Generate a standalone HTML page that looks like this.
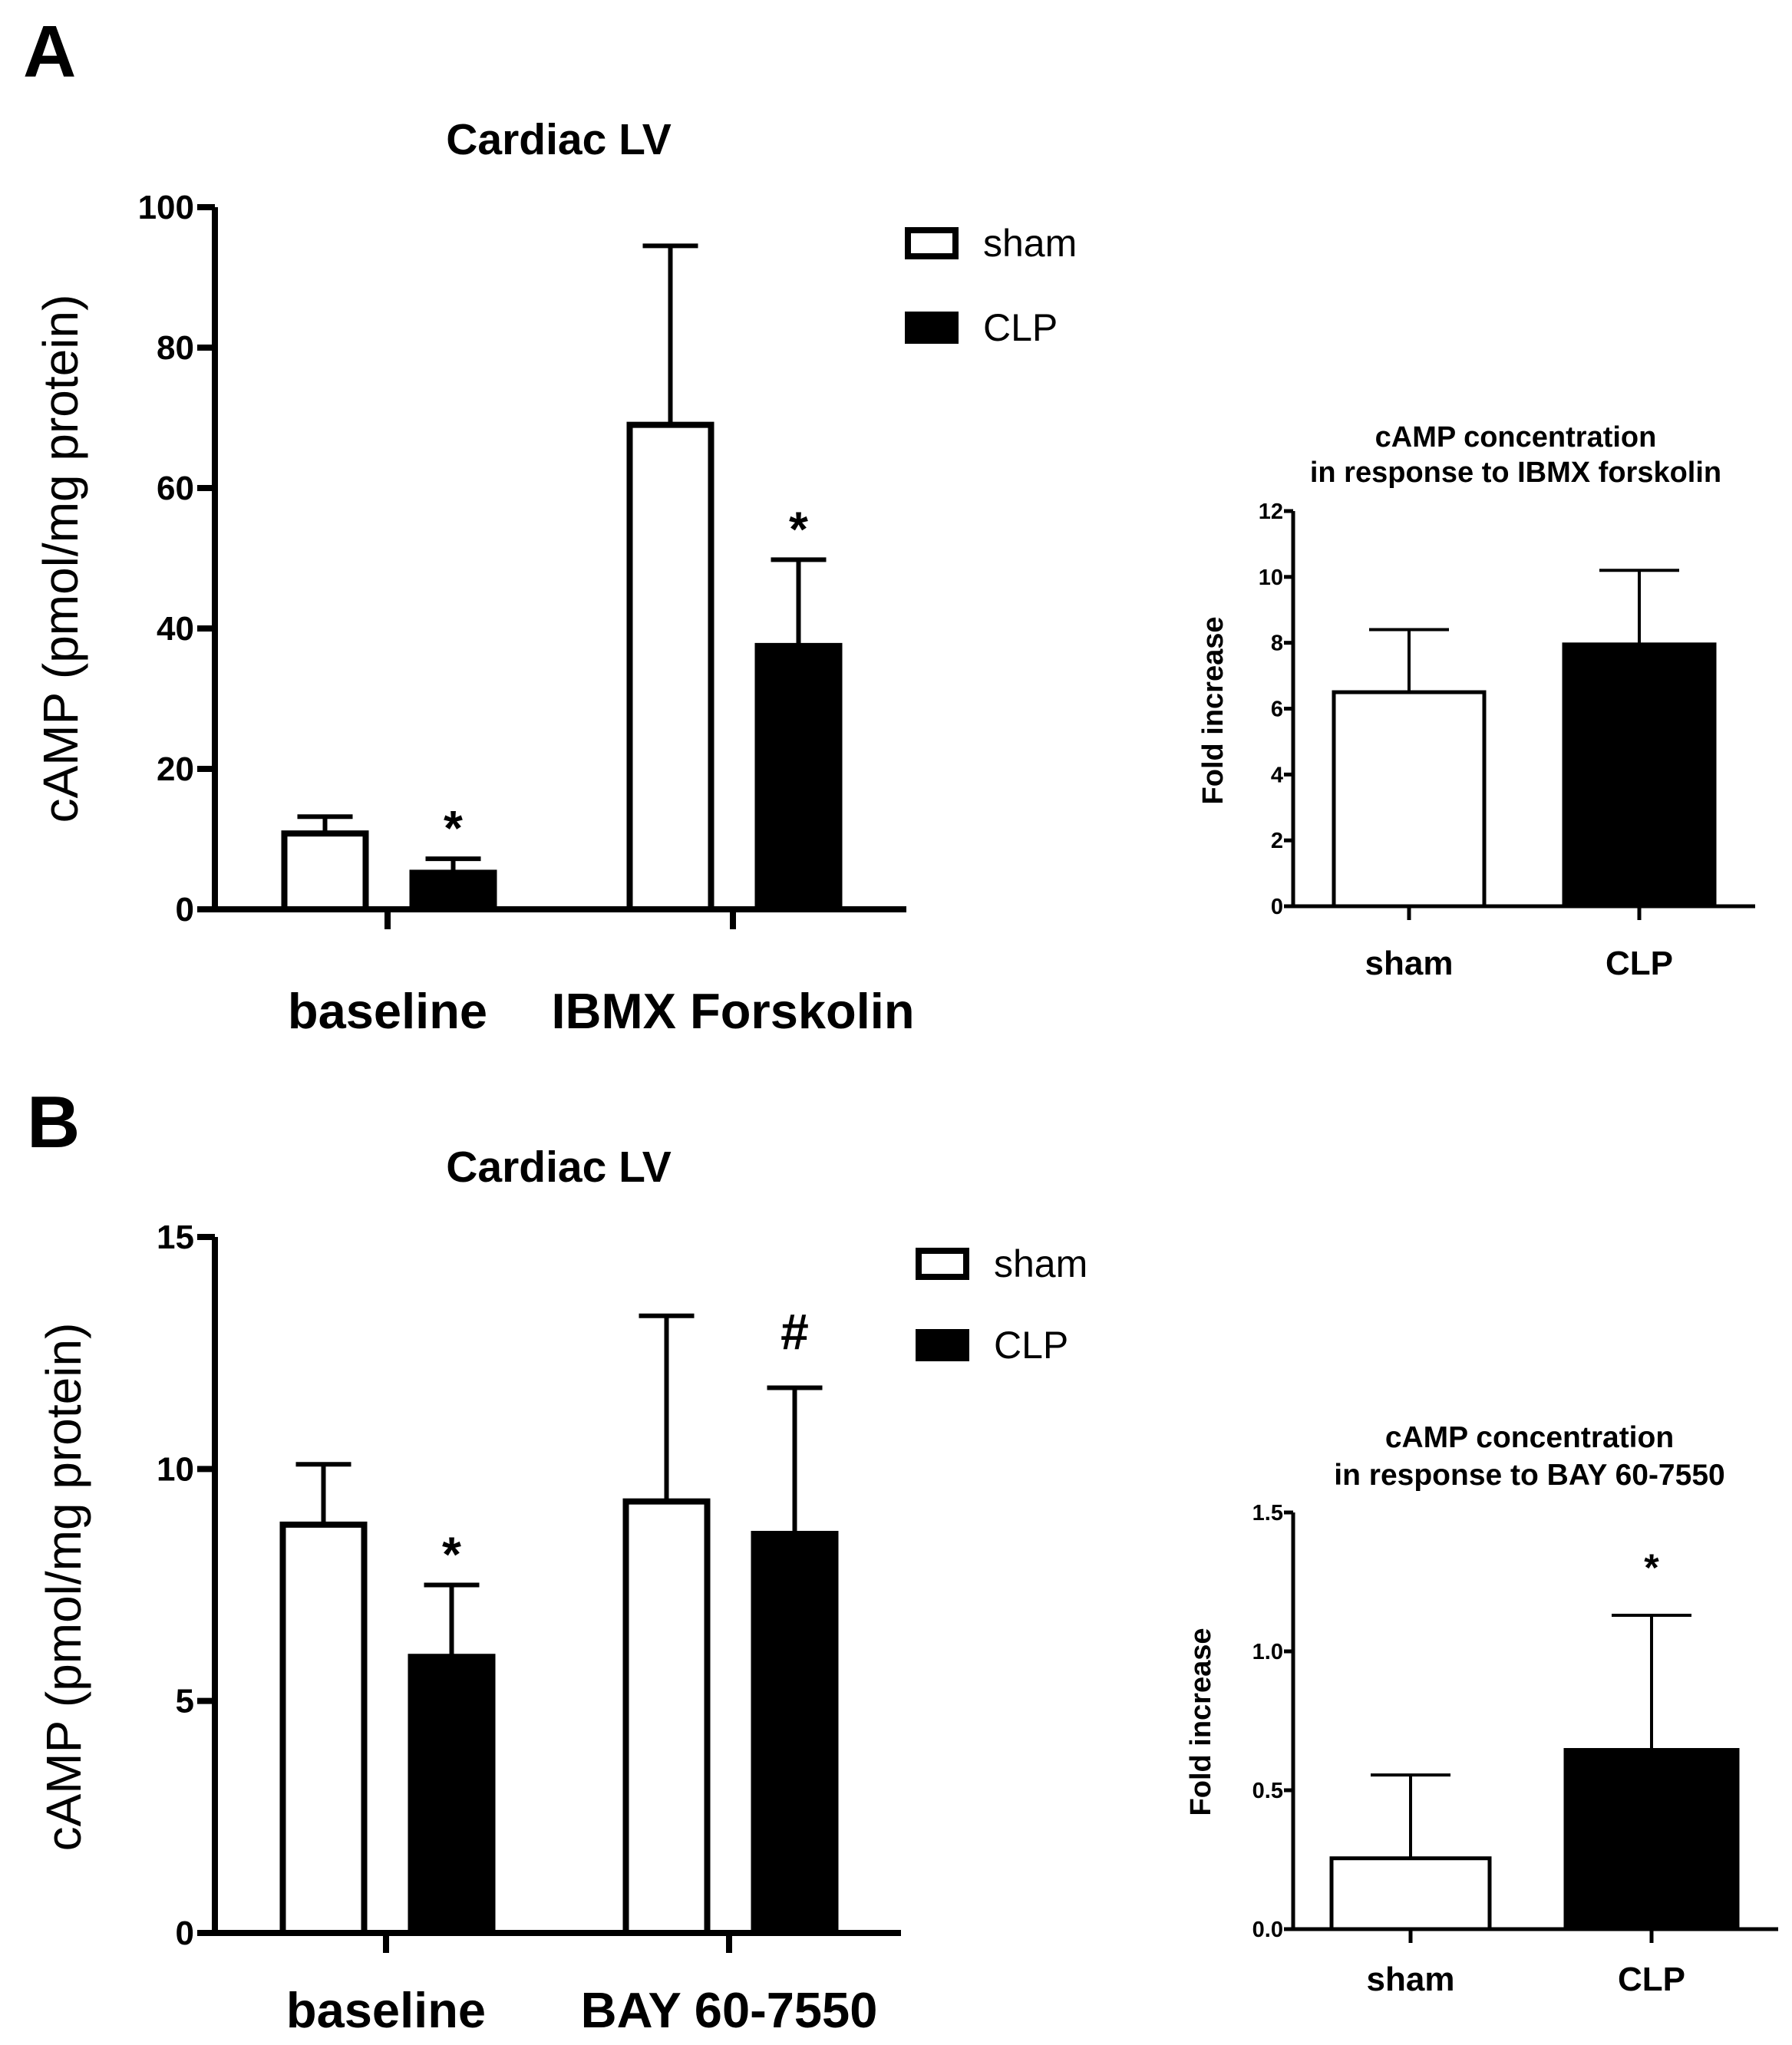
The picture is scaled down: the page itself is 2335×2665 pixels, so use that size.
<!DOCTYPE html>
<html><head><meta charset="utf-8">
<style>
html,body{margin:0;padding:0;background:#fff}
svg{display:block}
text{font-family:"Liberation Sans",Arial,sans-serif;fill:#000}
.b{font-weight:bold}
</style></head>
<body>
<svg id="fig" width="2335" height="2665" viewBox="0 0 2335 2665" xmlns="http://www.w3.org/2000/svg">
<rect width="2335" height="2665" fill="#fff"/>
<text class="b" x="30" y="100" font-size="96">A</text>
<text class="b" x="35" y="1495" font-size="96">B</text>
</svg>
<script>
// Panel A main chart data
const aCategories = ["baseline", "IBMX Forskolin"];
const aSham = [10.8, 69];
const aShamErr = [13.2, 94.5];
const aClp = [5.2, 37.5];
const aClpErr = [7.2, 49.8];
const aTicks = [0, 20, 40, 60, 80, 100];
const aMarks = ["*", "*"];
// Panel A right chart data
const arCategories = ["sham", "CLP"];
const arValues = [6.5, 7.95];
const arErr = [8.4, 10.2];
const arTicks = [0, 2, 4, 6, 8, 10, 12];
// Panel B main chart data
const bCategories = ["baseline", "BAY 60-7550"];
const bSham = [8.8, 9.3];
const bShamErr = [10.1, 13.3];
const bClp = [5.95, 8.6];
const bClpErr = [7.5, 11.75];
const bTicks = [0, 5, 10, 15];
const bMarks = ["*", "#"];
// Panel B right chart data
const brCategories = ["sham", "CLP"];
const brValues = [0.255, 0.645];
const brErr = [0.555, 1.13];
const brTicks = [0, 0.5, 1.0, 1.5];
const brTickLabels = ["0.0", "0.5", "1.0", "1.5"];
const brMarks = ["", "*"];

const svg = document.getElementById('fig');
const NS = "http://www.w3.org/2000/svg";
function el(tag, attrs, parent) {
  const e = document.createElementNS(NS, tag);
  for (const k in attrs) e.setAttribute(k, attrs[k]);
  (parent || svg).appendChild(e);
  return e;
}
function txt(s, attrs, parent) { const t = el('text', attrs, parent); t.textContent = s; return t; }

function mainChart(o) {
  const g = el('g', {});
  
  
  const y = v => o.y0 - (v - 0) / o.max * (o.y0 - o.yTop);
  const t = txt(o.title, {x: o.titleX, y: o.titleY, 'font-size': 57, 'text-anchor': 'middle', 'class': 'b'}, g);
  
  
  const ax = el('path', {d: `M${o.ax} ${o.yTop}V${o.y0}H${o.axEnd}`, stroke: '#000', 'stroke-width': 8, fill: 'none'}, g);
  
  
  o.ticks.forEach((v, i) => {
    el('line', {x1: o.ax - 23, x2: o.ax, y1: y(v), y2: y(v), stroke: '#000', 'stroke-width': 8}, g);
    const tl = txt(o.tickLabels ? o.tickLabels[i] : String(v), {x: o.ax - 27, y: y(v) + 15, 'font-size': 44, 'text-anchor': 'end', 'class': 'b'}, g);
    
    
  });
  const yl = txt(o.ylabel, {x: 0, y: 0, 'font-size': 64, 'text-anchor': 'middle', transform: `translate(${o.ylx},${o.yly}) rotate(-90)`}, g);
  
  
  const bw = 114, gap = 167;
  o.cats.forEach((c, i) => {
    const cx = o.catX[i];
    el('line', {x1: cx, x2: cx, y1: o.y0, y2: o.y0 + 26, stroke: '#000', 'stroke-width': 8}, g);
    const cl = txt(c, {x: cx, y: o.catY, 'font-size': 65, 'text-anchor': 'middle', 'class': 'b'}, g);
    
    
    [[o.sham, o.shamErr, '#fff', cx - gap / 2 - 55, null], [o.clp, o.clpErr, '#000', cx + gap / 2 - 55, o.marks[i]]].forEach(([vals, errs, fill, x0, mark]) => {
      const xm = x0 + bw / 2;
      const eb = el('path', {d: `M${xm} ${y(vals[i])}V${y(errs[i])}M${xm - 36} ${y(errs[i])}H${xm + 36}`, stroke: '#000', 'stroke-width': 6, fill: 'none'}, g);
      
      
      const r = el('rect', {x: x0 + 4, y: y(vals[i]), width: bw - 8, height: o.y0 - y(vals[i]), fill: fill, stroke: '#000', 'stroke-width': 8}, g);
      
      
      if (mark) {
        const m = txt(mark, {x: xm, y: y(errs[i]) - (mark === '#' ? 50 : 18), 'font-size': mark === '#' ? 66 : 64, 'text-anchor': 'middle', 'class': 'b'}, g);
        
        
      }
    });
  });
  [['sham', '#fff', o.legY[0]], ['CLP', '#000', o.legY[1]]].forEach(([n, f, ly]) => {
    const lg = el('g', {}, g);
    
    
    el('rect', {x: o.legX + 4, y: ly - 17, width: 62, height: 34, fill: f, stroke: '#000', 'stroke-width': 8}, lg);
    txt(n, {x: o.legX + 102, y: ly + 17, 'font-size': 50}, lg);
  });
}

function smallChart(o) {
  const g = el('g', {});
  
  
  const y = v => o.y0 - v / o.max * (o.y0 - o.yTop);
  o.title.forEach((l, i) => {
    const t = txt(l, {x: o.titleX, y: o.titleY[i], 'font-size': o.titleSize, 'text-anchor': 'middle', 'class': 'b'}, g);
    
    
  });
  const ax = el('path', {d: `M${o.ax} ${o.yTop}V${o.y0}H${o.axEnd}`, stroke: '#000', 'stroke-width': 5, fill: 'none'}, g);
  
  
  o.ticks.forEach((v, i) => {
    el('line', {x1: o.ax - 12, x2: o.ax, y1: y(v), y2: y(v), stroke: '#000', 'stroke-width': 5}, g);
    const tl = txt(o.tickLabels ? o.tickLabels[i] : String(v), {x: o.ax - 13, y: y(v) + 10, 'font-size': 29, 'text-anchor': 'end', 'class': 'b'}, g);
    
    
  });
  const yl = txt('Fold increase', {x: 0, y: 0, 'font-size': 38, 'text-anchor': 'middle', 'class': 'b', transform: `translate(${o.ylx},${o.yly}) rotate(-90)`}, g);
  
  
  o.cats.forEach((c, i) => {
    const cx = o.catX[i];
    el('line', {x1: cx, x2: cx, y1: o.y0, y2: o.y0 + 18, stroke: '#000', 'stroke-width': 5}, g);
    const cl = txt(c, {x: cx, y: o.catY, 'font-size': 44, 'text-anchor': 'middle', 'class': 'b'}, g);
    
    
    const bw = o.bw[i];
    const eb = el('path', {d: `M${cx} ${y(o.values[i])}V${y(o.err[i])}M${cx - 52} ${y(o.err[i])}H${cx + 52}`, stroke: '#000', 'stroke-width': 4, fill: 'none'}, g);
    
    
    const r = el('rect', {x: cx - bw / 2 + 3, y: y(o.values[i]), width: bw - 6, height: o.y0 - y(o.values[i]), fill: i === 0 ? '#fff' : '#000', stroke: '#000', 'stroke-width': 5}, g);
    
    
    if (o.marks && o.marks[i]) {
      const m = txt(o.marks[i], {x: cx, y: y(o.err[i]) - 45, 'font-size': 50, 'text-anchor': 'middle', 'class': 'b'}, g);
      
      
    }
  });
}

mainChart({name: 'chart-a-cardiac-lv', title: 'Cardiac LV', titleX: 728, titleY: 201,
  ax: 280, axEnd: 1181, y0: 1185, yTop: 270, max: 100, ticks: aTicks,
  ylabel: 'cAMP (pmol/mg protein)', ylx: 101, yly: 728,
  cats: aCategories, catX: [505, 955], catY: 1340,
  sham: aSham, shamErr: aShamErr, clp: aClp, clpErr: aClpErr, marks: aMarks,
  legX: 1179, legY: [317, 427]});

smallChart({name: 'chart-a-fold-increase', title: ['cAMP concentration', 'in response to IBMX forskolin'], titleX: 1975, titleY: [582, 628], titleSize: 38,
  ax: 1685, axEnd: 2287, y0: 1181, yTop: 666, max: 12, ticks: arTicks,
  ylx: 1593, yly: 926, cats: arCategories, catX: [1836, 2136], catY: 1270, bw: [202, 202],
  values: arValues, err: arErr});

mainChart({name: 'chart-b-cardiac-lv', title: 'Cardiac LV', titleX: 728, titleY: 1540,
  ax: 280, axEnd: 1174, y0: 2519, yTop: 1612, max: 15, ticks: bTicks,
  ylabel: 'cAMP (pmol/mg protein)', ylx: 105, yly: 2068,
  cats: bCategories, catX: [503, 950], catY: 2642,
  sham: bSham, shamErr: bShamErr, clp: bClp, clpErr: bClpErr, marks: bMarks,
  legX: 1193, legY: [1647, 1753]});

smallChart({name: 'chart-b-fold-increase', title: ['cAMP concentration', 'in response to BAY 60-7550'], titleX: 1993, titleY: [1886, 1935], titleSize: 39,
  ax: 1685, axEnd: 2317, y0: 2514, yTop: 1971, max: 1.5, ticks: brTicks, tickLabels: brTickLabels,
  ylx: 1577, yly: 2244, cats: brCategories, catX: [1838, 2152], catY: 2594, bw: [212, 230],
  values: brValues, err: brErr, marks: brMarks});
</script>
</body></html>
